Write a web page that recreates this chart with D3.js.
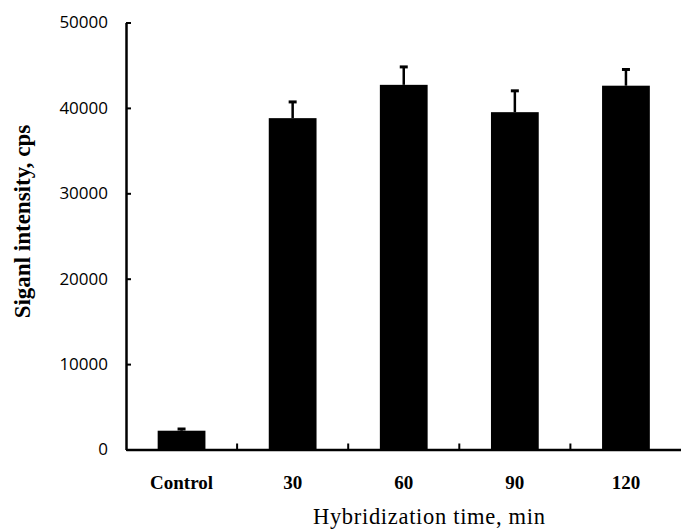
<html>
<head>
    <title>Signal intensity vs hybridization time</title>
    <style>
        body { margin: 0; background: #fff; }
        svg { display: block; }
    </style>
</head>
<body>
    <svg width="681" height="530"></svg>

    <script src="https://cdnjs.cloudflare.com/ajax/libs/d3/7.8.5/d3.min.js"></script>
    <script>
        // values
        const categories = ["Control", "30", "60", "90", "120"];
        const intensity = [2200, 38800, 42700, 39500, 42600];
        const errorUp = [200, 1900, 2100, 2500, 1900];
        const yTicks = [0, 10000, 20000, 30000, 40000, 50000];

        const data = categories.map((c, i) => ({ cat: c, value: intensity[i], err: errorUp[i] }));

        const svg = d3.select("svg"),
            margin = { top: 22.5, right: 0, bottom: 80, left: 126 },
            width = svg.attr("width") - margin.left - margin.right + 0.5,
            height = svg.attr("height") - margin.top - margin.bottom - 0.5;

        const g = svg.append("g").attr("transform", "translate(" + margin.left + "," + margin.top + ")");

        const xScale = d3.scaleBand().domain(categories).range([0, width]).paddingInner(0.57).paddingOuter(0.285);
        const yScale = d3.scaleLinear().domain([0, 50000]).range([height, 0]);

        // y axis, ticks pointing inward
        const yAxis = g.append("g")
            .call(d3.axisLeft(yScale).tickValues(yTicks).tickSizeInner(-5).tickSizeOuter(0).tickPadding(18).tickFormat(d3.format("d")));
        yAxis.select(".domain").attr("stroke-width", 2.5);
        yAxis.selectAll(".tick line").attr("stroke-width", 2);
        yAxis.selectAll("text")
            .attr("font-family", "'Open Sans', sans-serif")
            .attr("font-size", 17)
            .attr("fill", "#000");

        // x axis
        const xAxis = g.append("g").attr("transform", "translate(0," + height + ")")
            .call(d3.axisBottom(xScale).tickSize(0).tickPadding(26));
        xAxis.select(".domain").attr("stroke-width", 2.5);
        xAxis.selectAll("text")
            .attr("font-family", "'Liberation Serif', serif")
            .attr("font-weight", "bold")
            .attr("font-size", 19)
            .attr("fill", "#000");

        // small upward ticks between categories
        const step = xScale.step();
        g.selectAll(".sep")
            .data(categories.slice(1))
            .enter()
            .append("line")
            .attr("x1", d => xScale(d) - step * xScale.paddingInner() / 2)
            .attr("x2", d => xScale(d) - step * xScale.paddingInner() / 2)
            .attr("y1", height)
            .attr("y2", height - 6)
            .attr("stroke", "#000")
            .attr("stroke-width", 2);

        // bars
        g.selectAll(".bar")
            .data(data)
            .enter()
            .append("rect")
            .attr("x", d => xScale(d.cat))
            .attr("y", d => yScale(d.value))
            .attr("width", xScale.bandwidth())
            .attr("height", d => height - yScale(d.value))
            .attr("fill", "#000");

        // upper error bars
        const cx = d => xScale(d.cat) + xScale.bandwidth() / 2;
        g.selectAll(".err")
            .data(data)
            .enter()
            .append("line")
            .attr("x1", cx).attr("x2", cx)
            .attr("y1", d => yScale(d.value))
            .attr("y2", d => yScale(d.value + d.err))
            .attr("stroke", "#000")
            .attr("stroke-width", 2.5);
        g.selectAll(".cap")
            .data(data)
            .enter()
            .append("line")
            .attr("x1", d => cx(d) - 4).attr("x2", d => cx(d) + 4)
            .attr("y1", d => yScale(d.value + d.err))
            .attr("y2", d => yScale(d.value + d.err))
            .attr("stroke", "#000")
            .attr("stroke-width", 3);

        // axis titles
        svg.append("text")
            .attr("transform", "translate(30,221.5) rotate(-90)")
            .attr("text-anchor", "middle")
            .attr("font-family", "'Liberation Serif', serif")
            .attr("font-weight", "bold")
            .attr("font-size", 23)
            .text("Siganl intensity, cps");

        svg.append("text")
            .attr("x", 429)
            .attr("y", 524)
            .attr("text-anchor", "middle")
            .attr("font-family", "'Liberation Serif', serif")
            .attr("font-size", 22.5)
            .attr("textLength", 232)
            .attr("lengthAdjust", "spacing")
            .text("Hybridization time, min");
    </script>
</body>
</html>
